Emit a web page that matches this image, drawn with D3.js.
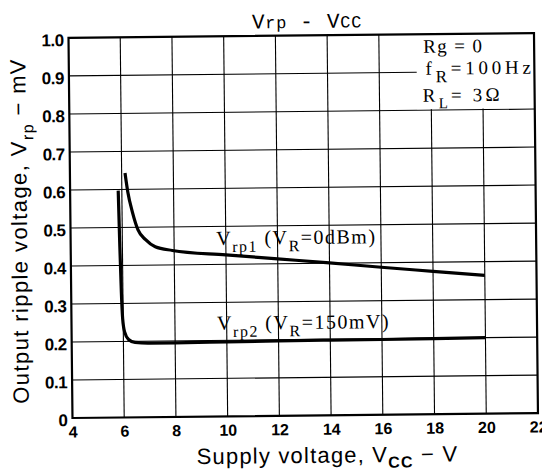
<!DOCTYPE html>
<html>
<head>
<meta charset="utf-8">
<script src="https://cdn.jsdelivr.net/npm/d3@7/dist/d3.min.js"></script>
<style>
  body { margin: 0; background: #fff; }
  svg { display: block; }
</style>
</head>
<body>
<div id="chart"></div>
<script>
// axis ticks
var xTicks = [4, 6, 8, 10, 12, 14, 16, 18, 20, 22];
var yTicks = [0, 0.1, 0.2, 0.3, 0.4, 0.5, 0.6, 0.7, 0.8, 0.9, 1.0];
var yTickLabels = ["0", "0.1", "0.2", "0.3", "0.4", "0.5", "0.6", "0.7", "0.8", "0.9", "1.0"];

// Vrp1 (VR = 0dBm)
var vrp1Vcc = [6.13, 6.23, 6.4, 6.61, 6.9, 7.27, 7.93, 10, 12, 14, 16, 18, 20];
var vrp1Val = [0.643, 0.593, 0.54, 0.493, 0.467, 0.448, 0.438, 0.425, 0.413, 0.401, 0.388, 0.376, 0.364];

// Vrp2 (VR = 150mV)
var vrp2Vcc = [5.86, 5.9, 5.94, 5.98, 6.05, 6.2, 6.45, 7, 8, 10, 12, 14, 16, 18, 20];
var vrp2Val = [0.597, 0.45, 0.33, 0.26, 0.225, 0.205, 0.197, 0.195, 0.195, 0.196, 0.197, 0.198, 0.198, 0.199, 0.2];

var svgWidth = 542, svgHeight = 473;
var plotLeft = 70.5, plotRight = 536, plotTop = 35.5, plotBottom = 415.6;

var svg = d3.select('#chart')
    .append('svg')
    .attr('width', svgWidth)
    .attr('height', svgHeight);

// the scan is tilted a little
var g = svg.append('g')
    .attr('transform', 'rotate(-0.6, 300, 227)');

var x = d3.scaleLinear().domain([4, 22]).range([plotLeft, plotRight]);
var y = d3.scaleLinear().domain([0, 1]).range([plotBottom, plotTop]);

// grid
g.selectAll('line.vgrid')
    .data(xTicks.slice(1, -1))
    .enter().append('line')
    .attr('class', 'vgrid')
    .attr('x1', d => x(d)).attr('x2', d => x(d))
    .attr('y1', y(0)).attr('y2', y(1))
    .attr('stroke', '#000').attr('stroke-width', 1.1);

g.selectAll('line.hgrid')
    .data(yTicks.slice(1, -1))
    .enter().append('line')
    .attr('class', 'hgrid')
    .attr('x1', x(4)).attr('x2', x(22))
    .attr('y1', d => y(d)).attr('y2', d => y(d))
    .attr('stroke', '#000').attr('stroke-width', 1.1);

// white box behind the conditions
g.append('rect')
    .attr('x', x(17.45))
    .attr('y', y(1))
    .attr('width', x(22) - x(17.45))
    .attr('height', y(0.8) - y(1) - 1)
    .attr('fill', '#fff');

// frame
g.append('rect')
    .attr('x', x(4)).attr('y', y(1))
    .attr('width', x(22) - x(4))
    .attr('height', y(0) - y(1))
    .attr('fill', 'none')
    .attr('stroke', '#000')
    .attr('stroke-width', 2.2);

// axes (labels only)
var xAxis = g.append('g')
    .attr('transform', 'translate(0,' + y(0) + ')')
    .call(d3.axisBottom(x).tickValues(xTicks).tickFormat(d3.format('d')).tickSize(0).tickPadding(8));
xAxis.select('.domain').remove();
xAxis.selectAll('text')
    .attr('fill', '#000')
    .style('font', 'bold 16px "Liberation Sans", Arial, sans-serif');

var yAxis = g.append('g')
    .attr('transform', 'translate(' + x(4) + ',0)')
    .call(d3.axisLeft(y).tickValues(yTicks).tickFormat((d, i) => yTickLabels[i]).tickSize(0).tickPadding(5));
yAxis.select('.domain').remove();
yAxis.selectAll('text')
    .attr('fill', '#000')
    .attr('dy', '0.45em')
    .style('font', 'bold 17px "Liberation Sans", Arial, sans-serif')
    .attr('letter-spacing', -0.5);

// curves
var line = d3.line()
    .x(d => x(d[0]))
    .y(d => y(d[1]))
    .curve(d3.curveMonotoneX);

var curves = [
    d3.zip(vrp1Vcc, vrp1Val),
    d3.zip(vrp2Vcc, vrp2Val)
];

g.selectAll('path.curve')
    .data(curves)
    .enter().append('path')
    .attr('class', 'curve')
    .attr('d', line)
    .attr('fill', 'none')
    .attr('stroke', '#000')
    .attr('stroke-width', 3.2)
    .attr('stroke-linejoin', 'round');

// text with subscripts: parts = [[text, kind]], kind '' | 'sub' | 'small' | 'subb'
function richText(parent, px, py, parts, font, size, subSize, extra) {
    var t = parent.append('text')
        .attr('x', px).attr('y', py)
        .attr('fill', '#000')
        .style('font-family', font)
        .style('font-size', size + 'px');
    if (extra) extra(t);
    var shift = 0;
    parts.forEach(function(p) {
        var s = t.append('tspan').text(p[0]);
        var want = p[1] === 'sub' ? subSize * 0.45 : 0;
        if (p[1] === 'sub' || p[1] === 'small') s.style('font-size', subSize + 'px');
        if (p[1] === 'subb') { s.style('font-size', subSize + 'px').style('font-weight', 'bold'); want = subSize * 0.35; }
        if (want !== shift) { s.attr('dy', want - shift); shift = want; }
    });
    return t;
}

var mono = '"Liberation Mono", "DejaVu Sans Mono", monospace';
var serif = '"Liberation Serif", "DejaVu Serif", serif';
var sans = '"Liberation Sans", Arial, sans-serif';

// title
richText(g, 254, 28, [['V', ''], ['rp', 'small'], [' - V', ''], ['CC', 'small']], mono, 21, 17,
    t => t.attr('letter-spacing', 0.7));

// conditions
richText(g, 425, 54, [['Rg = 0', '']], serif, 19, 14, t => t.attr('letter-spacing', 1.4));
richText(g, 427, 76, [['f', ''], ['R', 'sub'], ['=100Hz', '']], serif, 19, 17, t => t.attr('letter-spacing', 3.8));
richText(g, 424, 103, [['R', ''], ['L', 'sub'], ['= 3Ω', '']], serif, 19, 15, t => t.attr('letter-spacing', 3.2));

// curve labels
richText(g, 216, 244, [['V', ''], ['rp1', 'sub'], [' (V', ''], ['R', 'sub'], ['=0dBm)', '']], serif, 20, 16,
    t => t.attr('letter-spacing', 1.5));
richText(g, 216, 329, [['V', ''], ['rp2', 'sub'], [' (V', ''], ['R', 'sub'], ['=150mV)', '']], serif, 20, 16,
    t => t.attr('letter-spacing', 1.5));

// axis titles
richText(g, 325, 463, [['Supply voltage, V', ''], ['CC', 'subb'], [' \u2212 V', '']], sans, 22, 16,
    t => t.attr('text-anchor', 'middle').attr('letter-spacing', 1.2));

richText(g, 0, 0, [['Output ripple voltage, V', ''], ['rp', 'sub'], [' \u2212 mV', '']], sans, 22, 16,
    t => t.attr('text-anchor', 'middle').attr('letter-spacing', 1.4)
          .attr('transform', 'translate(27,228) rotate(-90)'));
</script>
</body>
</html>
